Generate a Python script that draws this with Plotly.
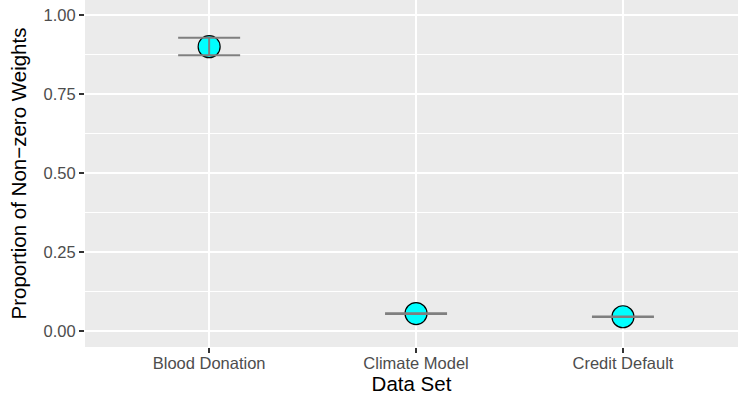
import plotly.graph_objects as go

categories = ["Blood Donation", "Climate Model", "Credit Default"]
mean_vals = [0.899, 0.056, 0.046]
upper_vals = [0.927, 0.057, 0.047]
lower_vals = [0.872, 0.055, 0.045]
y_ticks = [0.0, 0.25, 0.5, 0.75, 1.0]
y_tick_labels = ["0.00", "0.25", "0.50", "0.75", "1.00"]

xpos = list(range(len(categories)))
err_plus = [u - m for u, m in zip(upper_vals, mean_vals)]
err_minus = [m - l for m, l in zip(mean_vals, lower_vals)]

fig = go.Figure()
fig.add_trace(go.Scatter(
    x=xpos, y=mean_vals, mode="markers",
    marker=dict(size=22, color="#00FFFF", line=dict(color="black", width=1.2)),
    showlegend=False, hoverinfo="skip"))
fig.add_trace(go.Scatter(
    x=xpos, y=mean_vals, mode="markers",
    marker=dict(size=1, color="rgba(0,0,0,0)"),
    error_y=dict(type="data", symmetric=False, array=err_plus, arrayminus=err_minus,
                 color="#7F7F7F", thickness=2, width=31),
    showlegend=False, hoverinfo="skip"))

font_family = "Liberation Sans, Arial, sans-serif"
fig.update_layout(
    width=738, height=404,
    margin=dict(l=85, r=0, t=0, b=57),
    paper_bgcolor="white", plot_bgcolor="#EBEBEB",
    font=dict(family=font_family),
    xaxis=dict(
        range=[-0.6, 2.556], tickvals=xpos, ticktext=categories,
        showgrid=True, gridcolor="white", gridwidth=2, zeroline=False,
        ticks="outside", ticklen=5, tickwidth=1.5, tickcolor="#333333",
        tickfont=dict(size=16.5, color="#4D4D4D"), ticklabelstandoff=-4,
        title=dict(text="Data Set", font=dict(size=20.5, color="black"), standoff=4),
        showline=False,
    ),
    yaxis=dict(
        range=[-0.0496, 1.0465], tickvals=y_ticks, ticktext=y_tick_labels,
        showgrid=True, gridcolor="white", gridwidth=2, zeroline=False,
        ticks="outside", ticklen=5, tickwidth=1.5, tickcolor="#333333",
        tickfont=dict(size=16.5, color="#4D4D4D"),
        title=dict(text="Proportion of Non\u2212zero Weights", font=dict(size=20.5, color="black"), standoff=11),
        minor=dict(tickvals=[0.125, 0.375, 0.625, 0.875], showgrid=True, gridcolor="white", gridwidth=1, ticks=""),
        showline=False,
    ),
)

fig.write_html("out.html")
